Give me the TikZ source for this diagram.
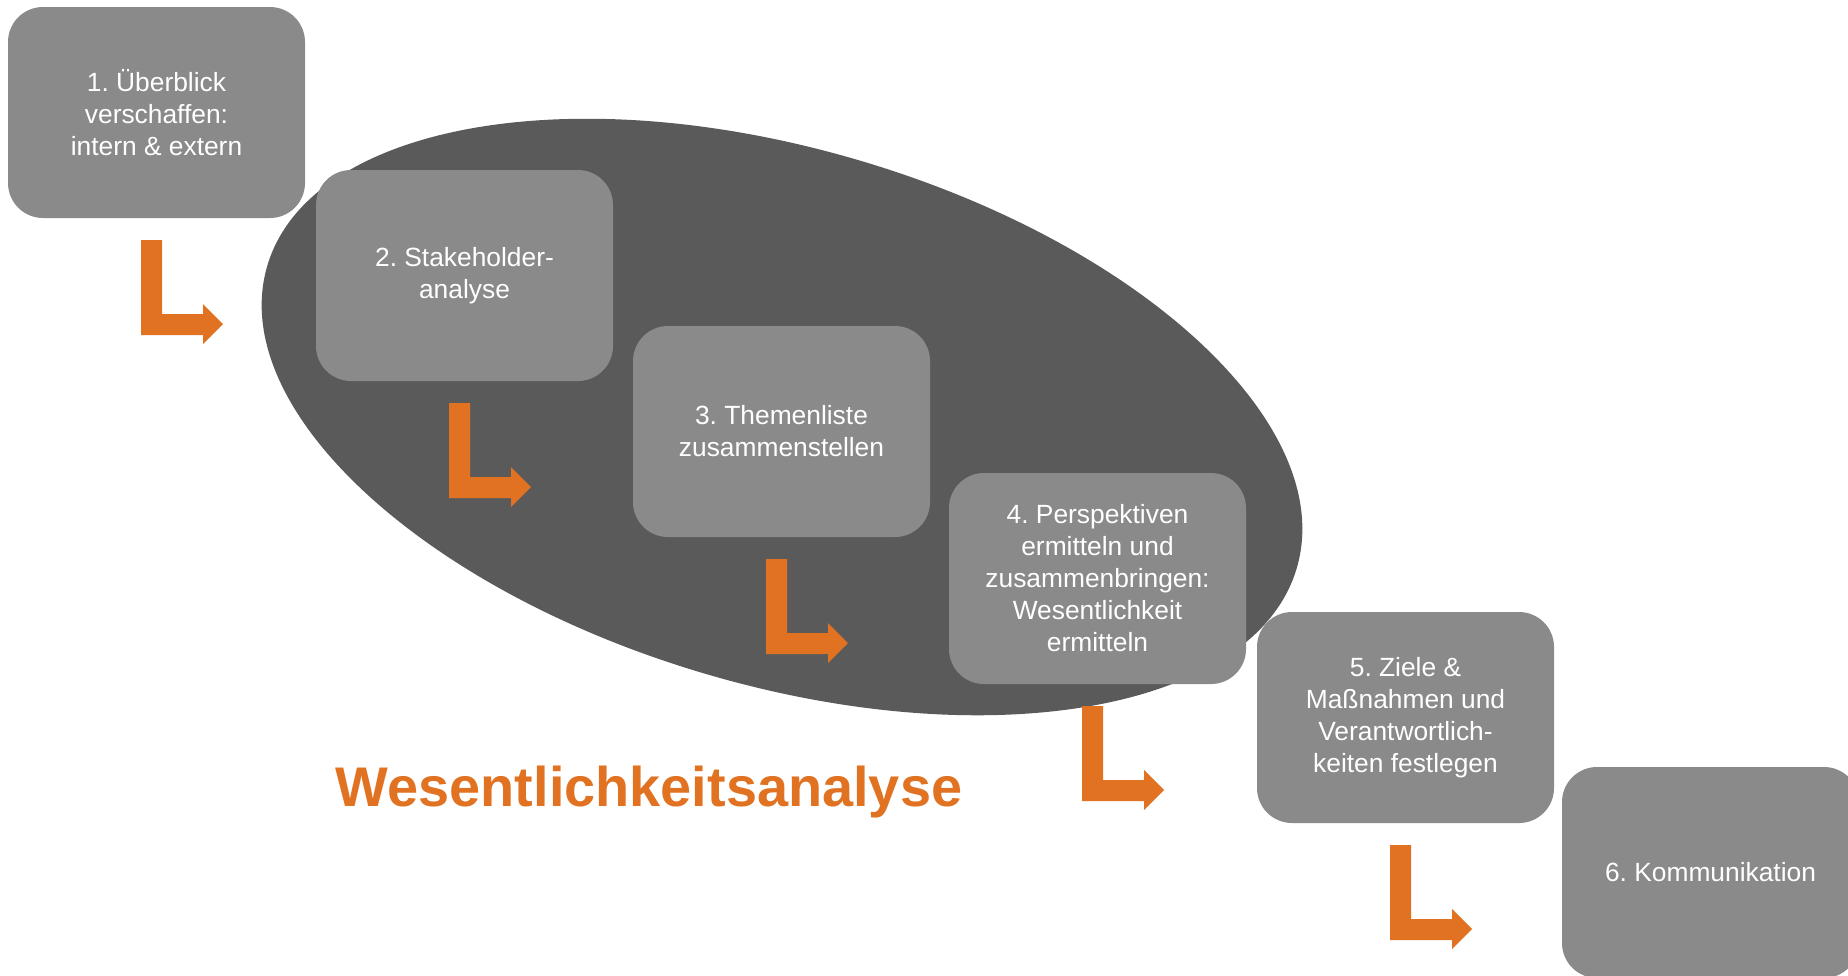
\documentclass[tikz,border=0pt]{standalone}
\usepackage{fontspec}
\setmainfont{Liberation Sans}
\usepackage{tikz}
\usetikzlibrary{shapes.geometric, calc}
\frenchspacing
\definecolor{boxgray}{HTML}{8A8A8A}
\definecolor{ovalgray}{HTML}{5A5A5A}
\definecolor{pfeilorange}{HTML}{E17222}
\tikzstyle{stepbox} = [rectangle, rounded corners=0.7cm, minimum width=5.94cm, minimum height=4.22cm, inner sep=0pt, outer sep=0pt, fill=boxgray, text=white, align=center, font=\fontsize{15}{18.2}\selectfont]
\tikzstyle{oval} = [ellipse, minimum width=21.46cm, minimum height=10.72cm, inner sep=0pt, fill=ovalgray, rotate=-16.35]
\tikzstyle{titel} = [text=pfeilorange, font=\fontsize{31.8}{38}\selectfont\bfseries]
\tikzstyle{blockarrow} = [fill=pfeilorange]
% L-Pfeil unter einem Schritt
\newcommand{\lpfeil}[1]{\fill [blockarrow] ($(#1.south west)+(2.66,-0.44)$) -- ++(0.42,0) -- ++(0,-1.48) -- ++(0.82,0) -- ++(0,0.2) -- ++(0.4,-0.4) -- ++(-0.4,-0.4) -- ++(0,0.18) -- ++(-1.24,0) -- cycle;}

\begin{document}
\begin{tikzpicture}[node distance=3cm]
  \clip (0,0) rectangle (36.96,-19.5);
  % Hintergrund
  \node (oval) [oval] at (15.64,-8.34) {};

  % Schritte
  \node (s1) [stepbox] at (3.13,-2.25) {1. Überblick\\verschaffen:\\intern \& extern};
  \node (s2) [stepbox, below of=s1, xshift=6.16cm, yshift=-0.26cm] {2. Stakeholder-\\analyse};
  \node (s3) [stepbox, below of=s2, xshift=6.34cm, yshift=-0.12cm] {3. Themenliste\\zusammenstellen};
  \node (s4) [stepbox, below of=s3, xshift=6.32cm, yshift=0.06cm] {4. Perspektiven\\ermitteln und\\zusammenbringen:\\Wesentlichkeit\\ermitteln};
  \node (s5) [stepbox, below of=s4, xshift=6.16cm, yshift=0.22cm] {5. Ziele \&\\Maßnahmen und\\Verantwortlich-\\keiten festlegen};
  \node (s6) [stepbox, below of=s5, xshift=6.10cm, yshift=-0.10cm] {6. Kommunikation};

  \node (titel) [titel, anchor=base] at (12.98,-16.12) {Wesentlichkeitsanalyse};

  % Pfeile
  \lpfeil{s1}
  \lpfeil{s2}
  \lpfeil{s3}
  \lpfeil{s4}
  \lpfeil{s5}
\end{tikzpicture}
\end{document}
